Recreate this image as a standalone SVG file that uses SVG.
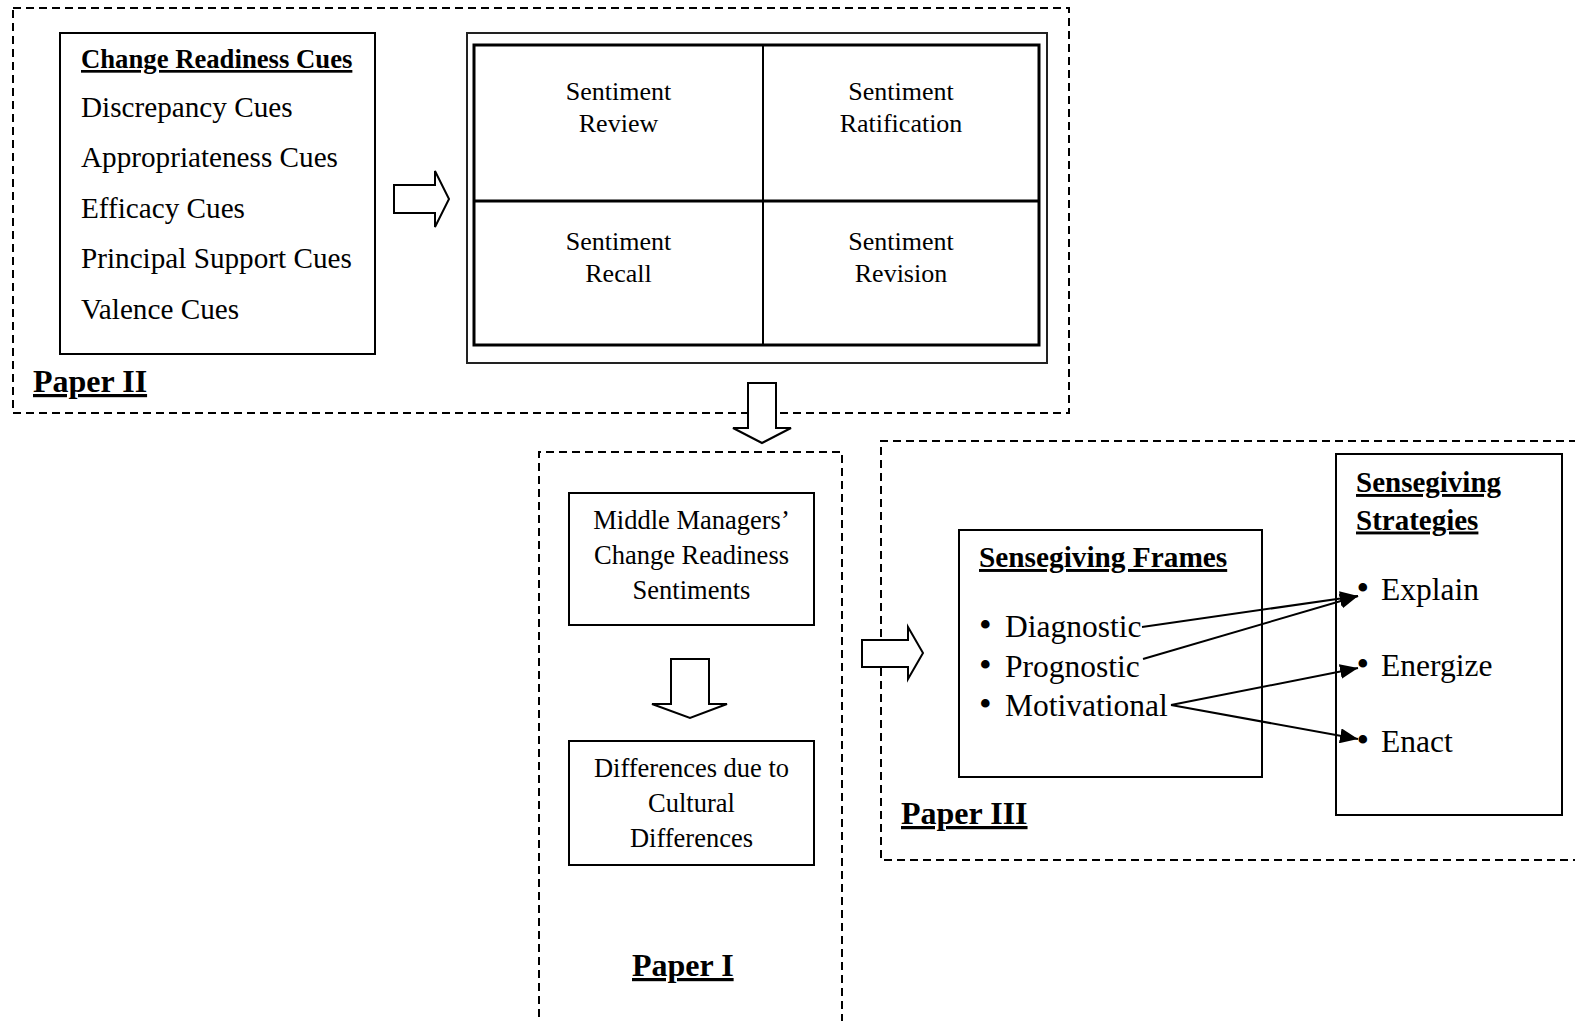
<svg xmlns="http://www.w3.org/2000/svg" width="1575" height="1021" viewBox="0 0 1575 1021">
  <style>
    text { font-family: "Liberation Serif", "Times New Roman", serif; fill: #000; }
    .frame { fill: none; stroke: #000; stroke-width: 2; stroke-dasharray: 8 5; }
    .box { fill: #fff; stroke: #000; stroke-width: 2; }
    .head { font-weight: bold; text-decoration: underline; }
    .label { font-weight: bold; font-size: 32px; text-decoration: underline; }
    .cue { font-size: 29.2px; }
    .quad { font-size: 26px; text-anchor: middle; }
    .p1 { font-size: 26.5px; text-anchor: middle; }
    .item { font-size: 31.5px; }
    .dot { font-size: 36px; }
    .block { fill: #fff; stroke: #000; stroke-width: 2; stroke-linejoin: miter; }
    .link { fill: none; stroke: #000; stroke-width: 2; marker-end: url(#tip); }
  </style>
  <defs>
    <marker id="tip" markerUnits="userSpaceOnUse" markerWidth="18" markerHeight="15" refX="18" refY="7.5" orient="auto">
      <path d="M0,0 L18,7.5 L0,15 Z" fill="#000"/>
    </marker>
  </defs>

  <rect width="1575" height="1021" fill="#fff"/>

  <!-- Paper II -->
  <g id="paper-ii">
    <rect class="frame" x="13" y="8" width="1056" height="405"/>
    <text class="label" x="33" y="392">Paper II</text>
  </g>

  <g id="change-readiness-cues">
    <rect class="box" x="60" y="33" width="315" height="321"/>
    <text class="head" x="81" y="68" font-size="26.7">Change Readiness Cues</text>
    <text class="cue" x="81" y="117">Discrepancy Cues</text>
    <text class="cue" x="81" y="167">Appropriateness Cues</text>
    <text class="cue" x="81" y="218">Efficacy Cues</text>
    <text class="cue" x="81" y="268">Principal Support Cues</text>
    <text class="cue" x="81" y="319">Valence Cues</text>
  </g>

  <g id="sentiment-grid">
    <rect x="467" y="33" width="580" height="330" fill="#fff" stroke="#222" stroke-width="2"/>
    <rect x="474" y="45" width="565" height="300" fill="none" stroke="#000" stroke-width="3"/>
    <line x1="763" y1="45" x2="763" y2="345" stroke="#000" stroke-width="2"/>
    <line x1="474" y1="201" x2="1039" y2="201" stroke="#000" stroke-width="3"/>
    <text class="quad" x="618.5" y="100">Sentiment</text>
    <text class="quad" x="618.5" y="131.5">Review</text>
    <text class="quad" x="901" y="100">Sentiment</text>
    <text class="quad" x="901" y="131.5">Ratification</text>
    <text class="quad" x="618.5" y="250">Sentiment</text>
    <text class="quad" x="618.5" y="281.5">Recall</text>
    <text class="quad" x="901" y="250">Sentiment</text>
    <text class="quad" x="901" y="281.5">Revision</text>
  </g>

  <!-- Paper I -->
  <g id="paper-i">
    <path class="frame" d="M539,1030 L539,452 L842,452 L842,1030"/>
    <text class="label" x="632" y="976">Paper I</text>
  </g>

  <g id="middle-managers">
    <rect class="box" x="569" y="493" width="245" height="132"/>
    <text class="p1" x="691.5" y="529">Middle Managers’</text>
    <text class="p1" x="691.5" y="564">Change Readiness</text>
    <text class="p1" x="691.5" y="599">Sentiments</text>
  </g>

  <g id="cultural-differences">
    <rect class="box" x="569" y="741" width="245" height="124"/>
    <text class="p1" x="691.5" y="777">Differences due to</text>
    <text class="p1" x="691.5" y="811.5">Cultural</text>
    <text class="p1" x="691.5" y="846.5">Differences</text>
  </g>

  <!-- Paper III -->
  <g id="paper-iii">
    <path class="frame" d="M1590,441 L881,441 L881,860 L1590,860"/>
    <text class="label" x="901" y="824">Paper III</text>
  </g>

  <g id="sensegiving-frames">
    <rect class="box" x="959" y="530" width="303" height="247"/>
    <text class="head" x="979" y="567" font-size="29.3">Sensegiving Frames</text>
    <text class="item" y="637"><tspan class="dot" x="979">•</tspan><tspan x="1005">Diagnostic</tspan></text>
    <text class="item" y="677"><tspan class="dot" x="979">•</tspan><tspan x="1005">Prognostic</tspan></text>
    <text class="item" y="716"><tspan class="dot" x="979">•</tspan><tspan x="1005">Motivational</tspan></text>
  </g>

  <g id="sensegiving-strategies">
    <rect class="box" x="1336" y="454" width="226" height="361"/>
    <text class="head" x="1356" y="492" font-size="29">Sensegiving</text>
    <text class="head" x="1356" y="529.5" font-size="29">Strategies</text>
    <text class="item" y="600"><tspan class="dot" x="1356.5">•</tspan><tspan x="1381">Explain</tspan></text>
    <text class="item" y="676"><tspan class="dot" x="1356.5">•</tspan><tspan x="1381">Energize</tspan></text>
    <text class="item" y="751.5"><tspan class="dot" x="1356.5">•</tspan><tspan x="1381">Enact</tspan></text>
  </g>

  <!-- Connectors -->
  <g id="connectors">
    <polygon class="block" points="394,185 435,185 435,171 449,199 435,227 435,213 394,213"/>
    <polygon class="block" points="748,383 776,383 776,428 791,428 762,443 733,428 748,428"/>
    <polygon class="block" points="671,659 709,659 709,704 727,704 690,718 652,704 671,704"/>
    <polygon class="block" points="862,640 908,640 908,627 923,653 908,679 908,667 862,667"/>
    <line class="link" x1="1142" y1="627" x2="1358" y2="596"/>
    <line class="link" x1="1143" y1="659" x2="1358" y2="596"/>
    <line class="link" x1="1171" y1="705" x2="1358" y2="668"/>
    <line class="link" x1="1171" y1="705" x2="1358" y2="739"/>
  </g>
</svg>
